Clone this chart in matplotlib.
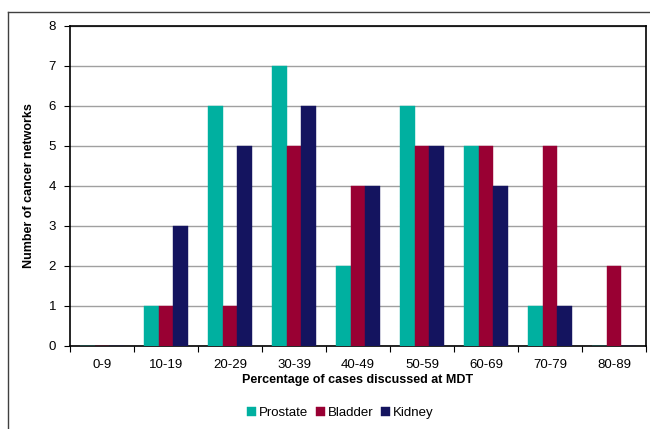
import matplotlib
matplotlib.use("Agg")
import matplotlib.pyplot as plt
from matplotlib.lines import Line2D
import numpy as np

plt.rcParams['font.family'] = ['Liberation Sans', 'DejaVu Sans']

categories = ["0-9", "10-19", "20-29", "30-39", "40-49", "50-59", "60-69", "70-79", "80-89"]
prostate = [0, 1, 6, 7, 2, 6, 5, 1, 0]
bladder = [0, 1, 1, 5, 4, 5, 5, 5, 2]
kidney = [0, 3, 5, 6, 4, 5, 4, 1, 0]
series_names = ["Prostate", "Bladder", "Kidney"]
colors = ["#00B0A0", "#990033", "#14145F"]

fig = plt.figure(figsize=(6.5, 4.29), dpi=100)
ax = fig.add_axes([70 / 650, 1 - 346 / 429, (646 - 70) / 650, (346 - 26) / 429])

x = np.arange(len(categories))
w = 0.23
for i, (vals, name, c) in enumerate(zip([prostate, bladder, kidney], series_names, colors)):
    ax.bar(x + (i - 1) * w, vals, width=w, color=c, label=name, zorder=3,
           edgecolor=c, linewidth=0.3)

ax.set_xlim(-0.5, len(categories) - 0.5)
ax.set_ylim(0, 8)
ax.set_yticks(range(0, 9))
ax.set_xticks(x)
ax.set_xticklabels(categories)
ax.set_xticks(np.arange(-0.5, len(categories)), minor=True)
ax.tick_params(axis='x', which='major', length=0, pad=9, labelsize=9.5)
ax.tick_params(axis='x', which='minor', length=4, width=0.8, direction='out')
ax.tick_params(axis='y', length=4, width=0.8, direction='out', labelsize=9.5, pad=6)
ax.yaxis.grid(True, color='#A0A0A0', linewidth=1, zorder=0)
for s in ax.spines.values():
    s.set_linewidth(1.2)
    s.set_color('black')

ax.set_xlabel("Percentage of cases discussed at MDT", fontsize=9, fontweight='bold')
ax.xaxis.set_label_coords(358 / 650, 1 - 380 / 429, transform=fig.transFigure)
ax.set_ylabel("Number of cancer networks", fontsize=9, fontweight='bold')
ax.yaxis.set_label_coords(29 / 650, 1 - 186 / 429, transform=fig.transFigure)
ax.xaxis.label.set_va('center')
ax.yaxis.label.set_va('center')

fig.legend(loc='center', bbox_to_anchor=(340 / 650, 1 - 413 / 429), ncol=3, frameon=False,
           fontsize=9.5, handlelength=0.7, handleheight=0.7, handletextpad=0.2, columnspacing=0.6)

# outer frame
fig.add_artist(Line2D([8 / 650, 1], [1 - 12 / 429, 1 - 12 / 429], color='#404040', linewidth=1,
                      transform=fig.transFigure))
fig.add_artist(Line2D([8 / 650, 8 / 650], [0, 1 - 12 / 429], color='#404040', linewidth=1,
                      transform=fig.transFigure))

fig.savefig("out.png", dpi=100)
